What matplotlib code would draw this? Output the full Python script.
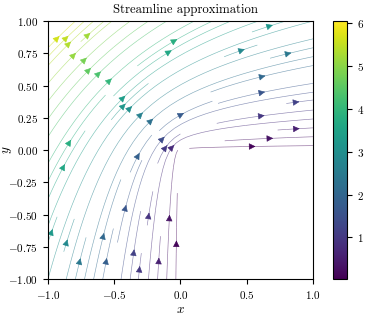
import numpy as np
import matplotlib
matplotlib.use("Agg")
import matplotlib.pyplot as plt

plt.rcParams['font.family'] = 'serif'
plt.rcParams['font.serif'] = ['cmr10']
plt.rcParams['mathtext.fontset'] = 'cm'
plt.rcParams['axes.formatter.use_mathtext'] = True
plt.rcParams['font.size'] = 8

# Field parameters (flow around a 270-degree corner, W = z^(2/3))
corner_exponent = 2.0 / 3.0
color_scale = 4.79
grid_n = 100
x_ticks = [-1.0, -0.5, 0.0, 0.5, 1.0]
y_ticks = [-1.00, -0.75, -0.50, -0.25, 0.00, 0.25, 0.50, 0.75, 1.00]
cbar_ticks = [1, 2, 3, 4, 5, 6]

x = np.linspace(-1, 1, grid_n)
y = np.linspace(-1, 1, grid_n)
X, Y = np.meshgrid(x, y)
R = np.hypot(X, Y)
TH = np.arctan2(Y, X)
TH = np.where(TH < 0, TH + 2 * np.pi, TH)
n = corner_exponent
U = n * R ** (n - 1) * np.cos((n - 1) * TH)
V = -n * R ** (n - 1) * np.sin((n - 1) * TH)
PSI = color_scale * R ** n * np.sin(n * TH)
mask = (X > 0) & (Y < 0)
U = np.ma.array(U, mask=mask)
V = np.ma.array(V, mask=mask)
PSI = np.ma.array(PSI, mask=mask)

fig = plt.figure(figsize=(3.69, 3.15), dpi=100)
ax = fig.add_axes([0.130, 0.114, 0.718, 0.819])
cax = fig.add_axes([0.902, 0.114, 0.038, 0.819])
strm = ax.streamplot(X, Y, U, V, color=PSI, cmap='viridis', linewidth=0.45,
                     density=1, arrowsize=1)
strm.lines.set_alpha(0.6)
ax.set_xlim(-1, 1)
ax.set_ylim(-1, 1)
ax.set_xticks(x_ticks)
ax.set_yticks(y_ticks)
ax.set_xlabel('$x$', fontsize=9.5)
ax.set_ylabel('$y$', fontsize=9.5)
ax.xaxis.set_label_coords(0.5, -0.095)
ax.yaxis.set_label_coords(-0.128, 0.5)
ax.set_title('Streamline approximation', fontsize=9.2, x=0.52)
cb = fig.colorbar(strm.lines, cax=cax)
cb.solids.set_alpha(1)
cb.set_ticks(cbar_ticks)
fig.savefig('out.png', dpi=100)
